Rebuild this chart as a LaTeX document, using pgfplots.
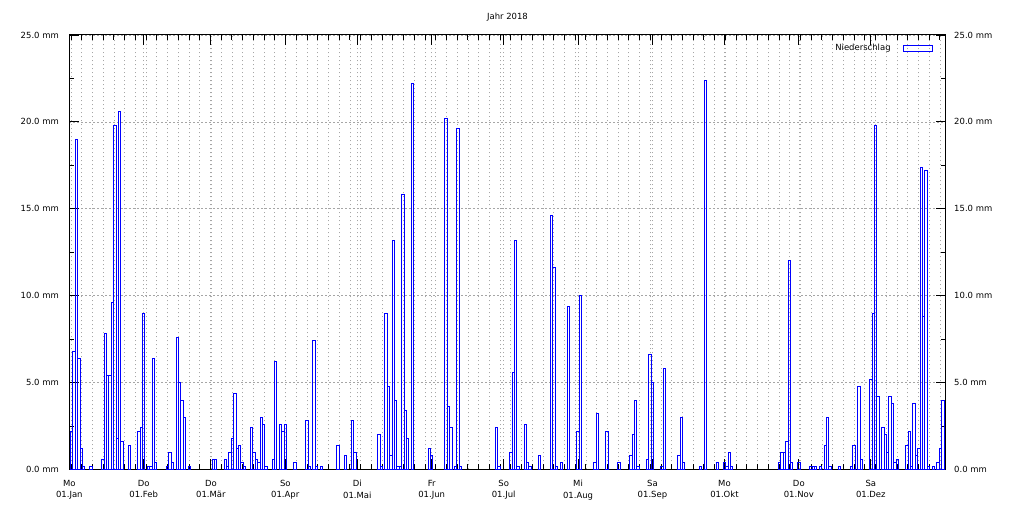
\documentclass[border=0pt]{standalone}
\usepackage{fontspec}
\setmainfont{DejaVu Sans}
\usepackage{pgfplots}
\usepackage{pgfplotstable}
\pgfplotsset{compat=1.18}

% Tagesniederschlag 2018 (Tag seit 01.01., mm)
\pgfplotstableread{
day mm
1 2.2
2 6.8
3 19.0
4 6.4
5 1.2
6 0.15
9 0.15
14 0.6
15 7.8
16 5.4
17 5.4
18 9.6
19 19.8
20 1.8
21 20.6
22 1.6
25 1.4
29 2.2
30 2.4
31 9.0
33 0.15
34 0.15
35 6.4
36 0.4
41 0.15
42 1.0
43 0.4
45 7.6
46 5.0
47 4.0
48 3.0
50 0.15
60 0.6
61 0.6
65 0.6
66 0.15
67 1.0
68 1.8
69 4.4
70 1.2
71 1.4
72 0.4
73 0.15
76 2.4
77 1.0
78 0.6
79 0.4
80 3.0
81 2.6
82 0.15
85 0.6
86 6.2
88 2.6
89 2.2
90 2.6
94 0.4
99 2.8
100 0.15
102 7.4
103 0.15
105 0.15
112 1.4
115 0.8
118 2.8
119 1.0
129 2.0
130 0.15
132 9.0
133 4.8
134 0.8
135 13.2
136 4.0
137 0.15
138 0.15
139 15.8
140 3.4
141 1.8
143 22.2
150 1.2
151 0.8
157 20.2
158 3.6
159 2.4
161 0.15
162 19.6
163 0.15
178 2.4
179 0.15
184 1.0
185 5.6
186 13.2
187 0.15
190 2.6
191 0.4
192 0.15
196 0.8
201 14.6
202 11.6
203 0.15
205 0.4
208 9.4
212 2.2
213 10.0
219 0.4
220 3.2
224 2.2
229 0.4
234 0.8
235 2.0
236 4.0
237 0.15
241 0.6
242 6.6
243 5.0
247 0.15
248 5.8
254 0.8
255 3.0
256 0.4
263 0.15
265 22.4
270 0.4
273 0.4
274 0.15
275 1.0
276 0.15
296 0.4
297 1.0
298 1.0
299 1.6
300 12.0
301 0.4
304 0.4
309 0.15
310 0.15
311 0.15
313 0.15
315 1.4
316 3.0
317 0.15
321 0.15
326 0.15
327 1.4
329 4.8
330 0.6
334 5.2
335 9.0
336 19.8
337 4.2
339 2.4
340 2.0
341 1.0
342 4.2
343 3.8
344 0.4
345 0.6
349 1.4
350 2.2
351 0.15
352 3.8
353 0.8
354 1.2
355 17.4
356 8.8
357 17.2
358 0.15
360 0.15
362 0.4
363 1.2
364 4.0
}\niederschlag

\def\mmlabels{0.0 mm,5.0 mm,10.0 mm,15.0 mm,20.0 mm,25.0 mm}

\begin{document}
\begin{tikzpicture}[font=\fontsize{8.5}{11}\selectfont]
\begin{axis}[
  at={(0,0)}, anchor=south west,
  scale only axis, width=876.4bp, height=434.5bp,
  xmin=0, xmax=365.2, ymin=0, ymax=25,
  xtick={0,31,59,90,120,151,181,212,243,273,304,334},
  xticklabels={{Mo\\01.Jan},{Do\\01.Feb},{Do\\01.Mär},{So\\01.Apr},{Di\\01.Mai},{Fr\\01.Jun},
               {So\\01.Jul},{Mi\\01.Aug},{Sa\\01.Sep},{Mo\\01.Okt},{Do\\01.Nov},{Sa\\01.Dez}},
  xticklabel style={align=center, font=\fontsize{8.5}{11.7}\selectfont, yshift=-7bp},
  minor xtick={0.7,5.17,...,365},
  ytick={0,5,...,25},
  yticklabels/.expand once=\mmlabels,
  yticklabel style={xshift=-7bp},
  minor ytick={2.5,7.5,...,22.5},
  tick align=inside,
  major tick length=10bp, minor tick length=5bp,
  every tick/.style={black, line width=0.8pt},
  minor tick style={black, line width=0.8pt},
  axis line style={black, line width=1pt},
  xmajorgrids, xminorgrids, ymajorgrids,
  major grid style={gray!70, dash pattern=on 1.5bp off 2.5bp, line width=0.6pt},
  minor grid style={gray!70, dash pattern=on 1.5bp off 2.5bp, line width=0.6pt},
  title={Jahr 2018},
  title style={at={(0.5,1)}, anchor=base, yshift=9.5bp},
  legend style={draw=none, fill=none, at={(1,1)}, anchor=north east,
                xshift=-10bp, yshift=-5bp},
  legend plot pos=right,
  legend image code/.code={\path (0bp,0bp);
    \draw[blue, line width=0.9pt] (10bp,-3bp) rectangle (39bp,3bp);},
]
\addplot[ybar, bar width=1, bar shift=0pt, draw=blue, fill=none, line width=0.9pt]
  table[x=day, y=mm] {\niederschlag};
\addlegendentry{Niederschlag}
\end{axis}
% rechte Achsenbeschriftung
\begin{axis}[
  at={(0,0)}, anchor=south west,
  scale only axis, width=876.4bp, height=434.5bp,
  xmin=0, xmax=365.2, ymin=0, ymax=25,
  hide x axis, axis line style={draw=none},
  ytick={0,5,...,25},
  yticklabels/.expand once=\mmlabels,
  yticklabel pos=right,
  ytick style={draw=none},
  yticklabel style={xshift=5bp},
]
\end{axis}
\pgfresetboundingbox
\path[use as bounding box] (-69.3bp,-37.5bp) rectangle (945.7bp,469.5bp);
\end{tikzpicture}
\end{document}
